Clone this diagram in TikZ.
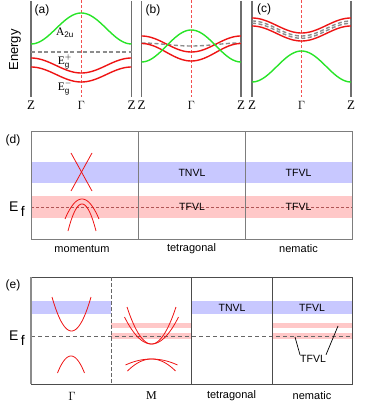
\documentclass[tikz,border=0pt]{standalone}
\usepackage{fontspec}
\setmainfont{Liberation Sans}
\newfontfamily\serifff{Liberation Serif}
\definecolor{bred}{RGB}{238,20,20}
\definecolor{bgreen}{RGB}{40,228,40}
\definecolor{bandblue}{RGB}{200,200,255}
\definecolor{bandpink}{RGB}{255,200,200}
\definecolor{frameg}{RGB}{110,110,110}
\definecolor{dashg}{RGB}{140,140,140}
\newcommand\bandcurve[5]{\draw[#1] plot[domain=-1:1,samples=60] ({(#2+#3)/2+(#3-#2)/2*\x},{#4+(#5-#4)*(1+cos(180*\x))/2});}
\newcommand\parab[5]{\draw[#1] plot[domain=-1:1,samples=40] ({#2+#4*\x},{#3+#5*\x*\x});}
\begin{document}
\begin{tikzpicture}[x=1pt,y=-1pt,
  frameline/.style={draw=frameg,line width=1.1pt},
  gammaline/.style={draw=bred!75,dashed,dash pattern=on 3pt off 2pt,line width=0.7pt},
  redband/.style={draw=bred,line width=1.4pt},
  greenband/.style={draw=bgreen,line width=1.4pt},
  greydash/.style={draw=dashg,dashed,dash pattern=on 4pt off 2.5pt,line width=1.4pt},
  redthin/.style={draw=bred,line width=0.8pt},
  lbl/.style={font=\fontsize{12}{14}\selectfont,inner sep=0pt},
  axl/.style={font=\fontsize{11}{13}\selectfont,inner sep=0pt},
  kl/.style={font=\serifff\fontsize{13}{15}\selectfont,inner sep=0pt},
  bl/.style={font=\fontsize{10.5}{12}\selectfont,inner sep=0pt},
  sl/.style={font=\serifff\fontsize{11.5}{13}\selectfont,inner sep=0pt},
  efl/.style={font=\fontsize{14}{16}\selectfont,inner sep=0pt}]
\useasboundingbox (0,0) rectangle (374,411);
% ---------- top panels ----------
\foreach \l/\r in {31/131.5,141.5/241,252/351}{
  \draw[frameline] (\l,1) -- (\l,97);
  \draw[frameline] (\r,1) -- (\r,97);
  \draw[gammaline] ({(\l+\r)/2},0) -- ({(\l+\r)/2},97);
}
% panel a
\bandcurve{greenband}{31}{131.5}{44}{13}
\draw[greydash] (31,52) -- (131.5,52);
\bandcurve{redband}{31}{131.5}{58}{73}
\bandcurve{redband}{31}{131.5}{67}{82}
% panel b
\bandcurve{greydash}{141.5}{241}{43}{46}
\bandcurve{redband}{141.5}{241}{36}{52}
\bandcurve{redband}{141.5}{241}{43.5}{61}
\bandcurve{greenband}{141.5}{241}{62}{30}
% panel c
\bandcurve{redband}{252}{351}{18}{33}
\bandcurve{redband}{252}{351}{26}{41}
\bandcurve{greydash}{252}{351}{21}{36}
\bandcurve{greydash}{252}{351}{23.3}{38.3}
\bandcurve{greenband}{252}{351}{82}{51}
% labels top
\node[lbl] (la) at (42,10) {(a)};
\node[lbl] (lb) at (153,10) {(b)};
\node[lbl] (lc) at (264,9) {(c)};
\node[lbl,rotate=90,font=\fontsize{13}{15}\selectfont] (energy) at (15,50) {Energy};
\node[sl] (a2u) at (65,33) {A$_{\mathrm{2u}}$};
\node[sl] (egp) at (65,62) {E$_{\mathrm{g}}^{+}$};
\node[sl] (egm) at (65,88) {E$_{\mathrm{g}}^{-}$};
\foreach \xx/\tt [count=\i] in {31/Z,81.25/$\Gamma$,131.5/Z,141.5/Z,191.25/$\Gamma$,241/Z,252/Z,301.5/$\Gamma$,351/Z}{
  \node[kl] (k\i) at (\xx,105) {\tt};
}
% ---------- panel d ----------
\fill[bandblue] (31,162) rectangle (352,183);
\fill[bandpink] (31,196) rectangle (352,218);
\draw[draw=bred!60!black!70,dashed,dash pattern=on 3pt off 2pt,line width=0.5pt] (31,207) -- (352,207);
\draw[draw=frameg!90,line width=0.9pt] (31,131.5) rectangle (352,239);
\draw[draw=frameg!90,line width=0.9pt] (138,131.5) -- (138,239);
\draw[draw=frameg!90,line width=0.9pt] (245,131.5) -- (245,239);
\draw[redthin] (71,153) -- (92,191);
\draw[redthin] (92,153) -- (71,191);
\parab{redthin}{82}{199}{17}{20}
\parab{redthin}{82}{204}{14}{27}
\node[lbl] (ld) at (13,140) {(d)};
\node[efl] (efd) at (17,209) {E\,\raisebox{-5pt}{f}};
\node[axl] (mom) at (82,249) {momentum};
\node[axl] (tetd) at (191.5,249) {tetragonal};
\node[axl] (nemd) at (298.5,249) {nematic};
\node[bl] (tnvld) at (192,172.5) {TNVL};
\node[bl] (tfvld1) at (298.5,172.5) {TFVL};
\node[bl] (tfvld2) at (192,207) {TFVL};
\node[bl] (tfvld3) at (298.5,207) {TFVL};
% ---------- panel e ----------
\fill[bandblue] (31,301) rectangle (111,314);
\fill[bandblue] (191,301) rectangle (352,314);
\fill[bandpink] (111,323) rectangle (191,328);
\fill[bandpink] (111,333) rectangle (191,339);
\fill[bandpink] (272,323) rectangle (352,328);
\fill[bandpink] (272,333) rectangle (352,339);
\draw[draw=black!60,dashed,dash pattern=on 4pt off 3pt,line width=0.6pt] (31,336) -- (352,336);
\draw[draw=black!70,line width=0.8pt] (31,277) rectangle (352,384);
\draw[draw=black!45,line width=1.4pt] (31,277) -- (31,384);
\draw[draw=black!60,dashed,dash pattern=on 4pt off 2pt,line width=0.7pt] (111,277) -- (111,384);
\draw[draw=black!70,line width=0.8pt] (191,277) -- (191,384);
\draw[draw=black!70,line width=0.8pt] (272,277) -- (272,384);
\parab{redthin}{71.5}{331}{19.5}{-34}
\parab{redthin}{71}{356}{13.5}{17}
\parab{redthin}{151.5}{344}{24.5}{-37}
\parab{redthin}{151.5}{344}{27}{-27}
\parab{redthin}{151.5}{359}{26}{6}
\parab{redthin}{151.5}{359}{24}{12}
\node[lbl] (le) at (13,285) {(e)};
\node[efl] (efe) at (17,338) {E\,\raisebox{-5pt}{f}};
\node[kl] (kg) at (72,396) {$\Gamma$};
\node[kl,font=\serifff\fontsize{12}{14}\selectfont] (km) at (151.5,396) {M};
\node[axl] (tete) at (231.5,396) {tetragonal};
\node[axl] (neme) at (312,396) {nematic};
\node[bl] (tnvle) at (232,308) {TNVL};
\node[bl] (tfvle) at (312,308) {TFVL};
\node[bl] (tfvll) at (313,358.5) {TFVL};
\coordinate (pl) at (295,337);
\coordinate (pr) at (338,326);
\draw[line width=0.7pt] (pl) -- (tfvll.north west);
\draw[line width=0.7pt] (pr) -- (tfvll.north east);
\end{tikzpicture}
\end{document}
